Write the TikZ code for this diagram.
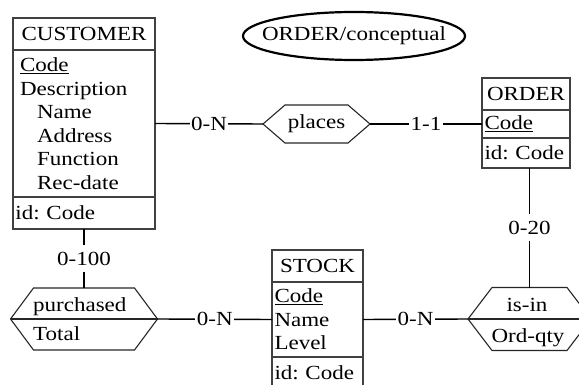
\documentclass[tikz,border=0pt]{standalone}
\usepackage{fontspec}
\setmainfont{Liberation Serif}[FakeStretch=1.15]
\usepackage{tikz}
\usetikzlibrary{positioning}
\frenchspacing

% hexagon outline round a relationship node: #1 node, #2 inset of the corners
\newcommand{\relhex}[2]{%
  \draw[hexline] (#1.west) -- ([xshift=#2]#1.north west) -- ([xshift=-#2]#1.north east)
    -- (#1.east) -- ([xshift=-#2]#1.south east) -- ([xshift=#2]#1.south west) -- cycle;}

\begin{document}
\begin{tikzpicture}[
  x=1pt, y=-1pt,
  font=\fontsize{20}{23.5}\selectfont,
  ehead/.style={draw=black!75, line width=1.1pt, outer sep=0pt, inner sep=0pt, minimum height=32pt, align=center},
  ebody/.style={draw=black!75, line width=1.1pt, outer sep=0pt, inner xsep=2.5pt, inner ysep=0pt, text width=#1, align=left},
  rel/.style={outer sep=0pt, inner sep=0pt},
  hexline/.style={line width=1.1pt, black!85},
  link/.style={line width=1.4pt},
  lbl/.style={fill=white, inner xsep=1.5pt, inner ysep=7pt},
  titleline/.style={line width=2.2pt}
]
\useasboundingbox (0,0) rectangle (579,385);

% title
\node (title) at (354,36) {ORDER/conceptual};
\draw[titleline] (title.center) ellipse [x radius=111pt, y radius=24pt];

% entity CUSTOMER
\node[ehead, minimum width=142pt, anchor=north west] (chead) at (13,18) {CUSTOMER};
\node[ebody=128pt, inner xsep=7pt, minimum height=147pt, below=0pt of chead] (cbody)
  {\underline{Code}\\ Description\\ \hspace*{17pt}Name\\ \hspace*{17pt}Address\\ \hspace*{17pt}Function\\ \hspace*{17pt}Rec-date};
\node[ebody=137pt, minimum height=32pt, below=0pt of cbody] (cid) {id: Code};

% entity ORDER
\node[ehead, minimum width=88pt, anchor=north west] (ohead) at (482,78) {ORDER};
\node[ebody=83pt, minimum height=28pt, below=0pt of ohead] (obody) {\underline{Code}};
\node[ebody=83pt, minimum height=30pt, below=0pt of obody] (oid) {id: Code};

% entity STOCK
\node[ehead, minimum width=91pt, anchor=north west] (shead) at (272,250) {STOCK};
\node[ebody=86pt, minimum height=75pt, below=0pt of shead] (sbody) {\underline{Code}\\ Name\\ Level};
\node[ebody=86pt, minimum height=32pt, below=0pt of sbody] (sid) {id: Code};

% relationships
\node[rel, minimum width=107pt, minimum height=38pt] (places) at (316.5,124) {places};
\relhex{places}{22pt}

\node[rel, minimum width=147pt, minimum height=62pt] (purch) at (84,319) {};
\relhex{purch}{23pt}
\draw[hexline] (purch.west) -- (purch.east);
\node[anchor=base west, inner sep=0pt] (purchname) at (33,312) {purchased};
\node[anchor=base west, inner sep=0pt] (purchattr) at (33,340) {Total};

\node[rel, minimum width=123pt, minimum height=63pt] (isin) at (529.5,319) {};
\relhex{isin}{24pt}
\draw[hexline] (isin.west) -- (isin.east);
\node[anchor=base, inner sep=0pt] (isinname) at (527,312) {is-in};
\node[anchor=base, inner sep=0pt] (isinattr) at (528,342) {Ord-qty};

% roles
\draw[link] (cbody.east) -- node[lbl] {0-N} (places.west);
\draw[link] (places.east) -- node[lbl] {1-1} (places.east -| obody.west);
\draw[link] (cid.south) -- node[lbl] {0-100} (purch.north);
\draw[link] (purch.east) -- node[lbl] {0-N} (sbody.west);
\draw[link] (sbody.east) -- node[lbl] {0-N} (isin.west);
\draw[link] (isin.north |- oid.south) -- node[lbl] {0-20} (isin.north);
\end{tikzpicture}
\end{document}
